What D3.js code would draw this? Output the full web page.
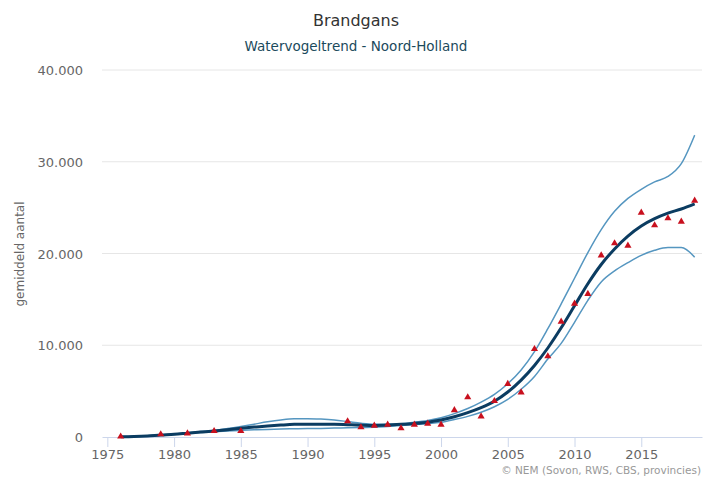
<!DOCTYPE html>
<html><head><meta charset="utf-8">
<script src="https://cdn.jsdelivr.net/npm/d3@7"></script>
<style>
html,body{margin:0;padding:0;background:#fff;}
svg{display:block;font-family:"DejaVu Sans",sans-serif;}
</style></head>
<body>
<svg id="chart" width="716" height="477"></svg>
<script>
const years = d3.range(1976, 2020);
const trend = [30,60,120,220,300,420,540,660,800,950,1080,1200,1300,1380,1400,1400,1380,1340,1290,1260,1300,1380,1480,1620,1850,2200,2650,3200,3900,4900,6200,7800,9700,11900,14300,16700,18800,20500,21900,23000,23800,24400,24850,25400];
const upper = [40,80,140,240,330,460,590,720,920,1150,1400,1650,1850,1980,2000,1950,1850,1680,1500,1400,1400,1450,1600,1800,2100,2550,3100,3800,4650,5800,7300,9300,11800,14500,17300,20100,22600,24600,26000,27000,27800,28400,29800,32900];
const lower = [20,50,100,200,280,380,480,580,650,720,780,830,870,900,920,940,970,1000,1030,1060,1150,1250,1350,1450,1600,1900,2250,2700,3300,4100,5200,6600,8500,10200,12500,14900,16900,18100,19000,19800,20350,20650,20650,19600];
const obsYears = [1976,1979,1981,1983,1985,1993,1994,1995,1996,1997,1998,1999,2000,2001,2002,2003,2004,2005,2006,2007,2008,2009,2010,2011,2012,2013,2014,2015,2016,2017,2018,2019];
const obsValues = [50,300,400,650,650,1710,1060,1230,1340,950,1340,1450,1340,2920,4330,2250,3920,5780,4870,9590,8800,12570,14530,15590,19800,21110,20850,24450,23080,23840,23470,25760];
const xTicks = [1975,1980,1985,1990,1995,2000,2005,2010,2015];
const yTicks = [0,10000,20000,30000,40000];

const svg = d3.select("#chart");
const x = d3.scaleLinear().domain([1974.6, 2019.55]).range([102, 702]);
const y = d3.scaleLinear().domain([0, 40000]).range([437, 70]);
const fmt = v => d3.format(",")(v).replace(/,/g, ".");

// gridlines
svg.append("g").selectAll("line").data(yTicks.filter(d => d > 0)).join("line")
  .attr("x1", 102).attr("x2", 702)
  .attr("y1", d => y(d)).attr("y2", d => y(d))
  .attr("stroke", "#e6e6e6").attr("stroke-width", 1);

// y axis labels
const yAxis = d3.axisLeft(y).tickValues(yTicks).tickFormat(fmt).tickSize(0).tickPadding(0);
const gy = svg.append("g").attr("transform", "translate(83,0)").call(yAxis);
gy.select(".domain").remove();
gy.selectAll("text").attr("fill", "#666").attr("font-size", 13).attr("font-family", "DejaVu Sans").attr("dy", "0.35em");

// x axis
const xAxis = d3.axisBottom(x).tickValues(xTicks).tickFormat(d3.format("d")).tickSize(10).tickSizeOuter(0).tickPadding(3);
const gx = svg.append("g").attr("transform", "translate(0,437)").call(xAxis);
gx.select(".domain").attr("stroke", "#ccd6eb");
gx.selectAll(".tick line").attr("stroke", "#ccd6eb");
gx.selectAll("text").attr("fill", "#666").attr("font-size", 13).attr("font-family", "DejaVu Sans");

const mk = arr => d3.line().x((d, i) => x(years[i])).y(d => y(d)).curve(d3.curveMonotoneX)(arr);

svg.append("path").attr("d", mk(upper)).attr("fill", "none").attr("stroke", "#5596c0").attr("stroke-width", 1.5);
svg.append("path").attr("d", mk(lower)).attr("fill", "none").attr("stroke", "#5596c0").attr("stroke-width", 1.5);
svg.append("path").attr("d", mk(trend)).attr("fill", "none").attr("stroke", "#0b3c61").attr("stroke-width", 3);

// observations
const tri = d3.symbol().type(d3.symbolTriangle).size(22);
svg.append("g").selectAll("path").data(obsYears.map((yr, i) => [yr, obsValues[i]])).join("path")
  .attr("d", tri)
  .attr("transform", d => `translate(${x(d[0])},${y(d[1])})`)
  .attr("fill", "#c8101e");

// titles
svg.append("text").attr("x", 356).attr("y", 26).attr("text-anchor", "middle")
  .attr("font-size", 16).attr("fill", "#333").text("Brandgans");
svg.append("text").attr("x", 356).attr("y", 51).attr("text-anchor", "middle")
  .attr("font-size", 13.5).attr("fill", "#1b4a5c").text("Watervogeltrend - Noord-Holland");
svg.append("text").attr("transform", "translate(24,254) rotate(-90)").attr("text-anchor", "middle")
  .attr("font-size", 12).attr("fill", "#666").text("gemiddeld aantal");
svg.append("text").attr("x", 701).attr("y", 474).attr("text-anchor", "end")
  .attr("font-size", 10.5).attr("fill", "#999").text("© NEM (Sovon, RWS, CBS, provincies)");
</script>
</body></html>
